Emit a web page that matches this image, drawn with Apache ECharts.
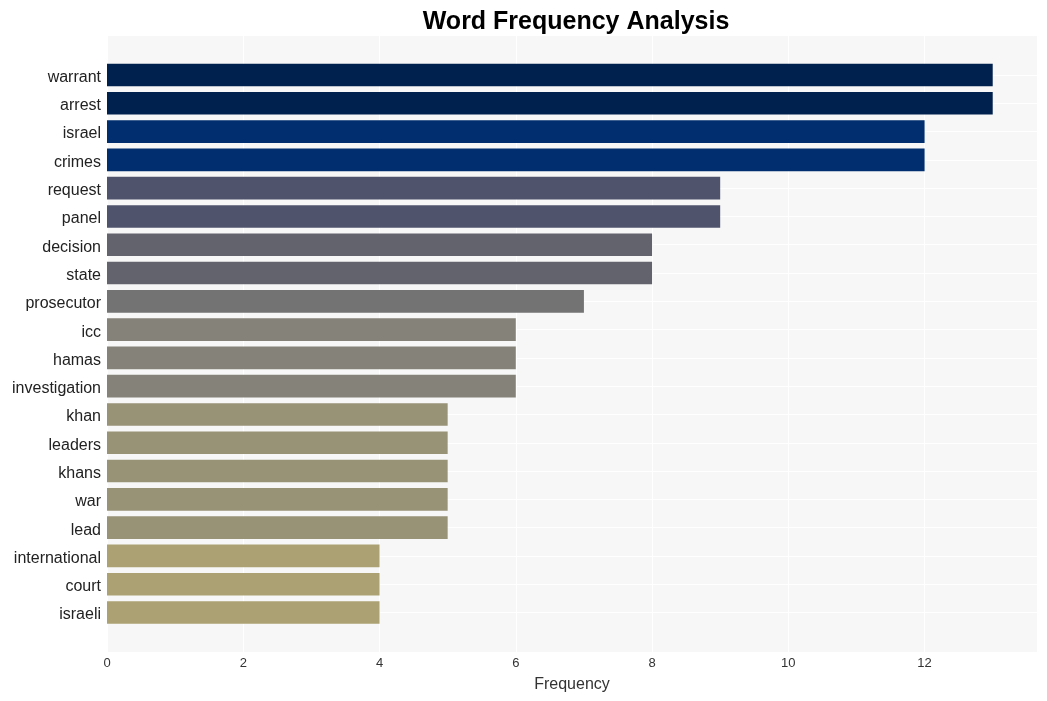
<!DOCTYPE html>
<html>
<head>
<meta charset="utf-8">
<script src="https://cdn.jsdelivr.net/npm/echarts@6/dist/echarts.min.js"></script>
<style>html,body{margin:0;padding:0;background:#fff}#c{width:1047px;height:701px}</style>
</head>
<body>
<div id="c"></div>
<script>
const words = ["warrant","arrest","israel","crimes","request","panel","decision","state","prosecutor","icc","hamas","investigation","khan","leaders","khans","war","lead","international","court","israeli"];
const counts = [13,13,12,12,9,9,8,8,7,6,6,6,5,5,5,5,5,4,4,4];
const xTicks = [0,2,4,6,8,10,12];
const colorByCount = {13:"#00204e",12:"#002e6f",9:"#4f546c",8:"#63636e",7:"#747373",6:"#858279",5:"#989277",4:"#aca173"};

const font = "'Liberation Sans', Arial, sans-serif";
const chart = echarts.init(document.getElementById('c'), null, {renderer:'canvas'});
const xMax = 13.65;
chart.setOption({
  animation:false,
  title:{text:"Word Frequency Analysis",left:571,top:5,textAlign:'center',
    textStyle:{fontFamily:font,fontSize:25,fontWeight:'bold',color:'#000'}},
  grid:[
    {left:107,top:36,width:930,height:616,show:true,backgroundColor:'#f7f7f7',borderWidth:0},
    {left:107,top:75,width:930,height:537.5}
  ],
  xAxis:[
    {gridIndex:0,type:'value',min:0,max:xMax,interval:2,
      axisLine:{show:false},axisTick:{show:false},
      axisLabel:{fontFamily:font,fontSize:13,color:'#333',margin:5,
        customValues:xTicks},
      splitLine:{show:true,lineStyle:{color:'#ffffff',width:1}},
      name:'Frequency',nameLocation:'middle',nameGap:25,
      nameTextStyle:{fontFamily:font,fontSize:16,color:'#333'}},
    {gridIndex:1,type:'value',min:0,max:xMax,show:false,splitLine:{show:false}}
  ],
  yAxis:[
    {gridIndex:0,type:'value',show:false,splitLine:{show:false}},
    {gridIndex:1,type:'category',data:words,inverse:true,boundaryGap:false,
      axisLine:{show:false},axisTick:{show:false},
      axisLabel:{margin:6,formatter:'{a|{value}}',
        rich:{a:{fontFamily:font,fontSize:16,color:'#222',padding:[5,0,0,0]}}},
      splitLine:{show:true,lineStyle:{color:'#ffffff',width:1}}}
  ],
  series:[{
    type:'bar',xAxisIndex:1,yAxisIndex:1,clip:false,barWidth:'80%',
    data:counts.map(v=>({value:v,itemStyle:{color:colorByCount[v]}}))
  }]
});
</script>
</body>
</html>
